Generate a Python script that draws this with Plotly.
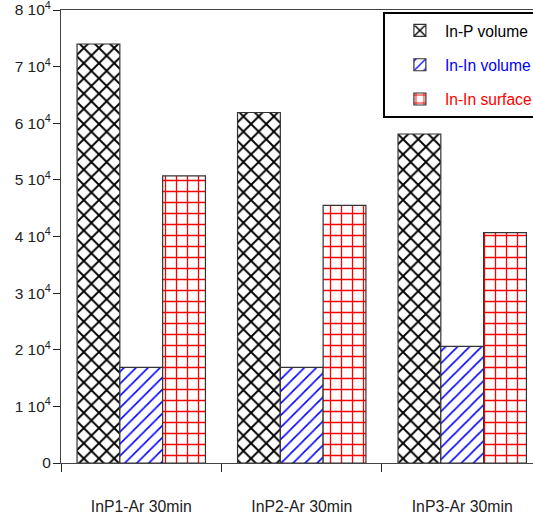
import plotly.graph_objects as go

categories = ["InP1-Ar 30min", "InP2-Ar 30min", "InP3-Ar 30min"]
inp_volume = [74000, 61900, 58100]
inin_volume = [16900, 16900, 20600]
inin_surface = [50700, 45500, 40700]
series_names = ["In-P volume", "In-In volume", "In-In surface"]
series_colors = ["#000000", "#0000ff", "#ff0000"]
series_patterns = ["x", "/", "+"]
pattern_sizes = [10.75, 8.5, 11]
pattern_solidity = [0.32, 0.18, 0.22]
y_tickvals = [0, 10000, 20000, 30000, 40000, 50000, 60000, 70000, 80000]
y_ticktext = ["0"] + [f"{i} 10<sup>4</sup>" for i in range(1, 9)]

fig = go.Figure()
for i, vals in enumerate([inp_volume, inin_volume, inin_surface]):
    fig.add_trace(go.Bar(
        x=categories, y=vals,
        name=f"<span style='color:{series_colors[i]}'>{series_names[i]}</span>",
        legendgroup=f"g{i}",
        marker=dict(
            color="white",
            line=dict(color="#333333", width=1.2),
            pattern=dict(shape=series_patterns[i], fgcolor=series_colors[i],
                         bgcolor="white", size=pattern_sizes[i],
                         solidity=pattern_solidity[i], fillmode="replace"),
        ),
        hoverinfo="skip",
    ))

fig.update_layout(
    width=533, height=516,
    margin=dict(l=61, r=0, t=10, b=53, autoexpand=False),
    paper_bgcolor="white", plot_bgcolor="white",
    font=dict(family="Liberation Sans, Arial, sans-serif", size=15.5, color="#222222"),
    barmode="group", bargap=0.2, bargroupgap=0,
    showlegend=True,
    legend=dict(
        x=0.682, y=0.996, xanchor="left", yanchor="top",
        bordercolor="black", borderwidth=2, bgcolor="white",
        font=dict(size=15.6),
        tracegroupgap=11,
        itemwidth=40,
        indentation=10,
    ),
)
fig.update_xaxes(
    range=[-0.5, 2.441],
    showline=True, linecolor="#444444", linewidth=1, mirror=True,
    ticks="outside", tickson="boundaries", ticklen=8, tickcolor="#222222",
    ticklabelstandoff=29,
    showgrid=False, zeroline=False,
    tickfont=dict(size=15.8),
)
fig.update_yaxes(
    range=[0, 80000],
    tickvals=y_tickvals, ticktext=y_ticktext,
    showline=True, linecolor="#444444", linewidth=1,
    ticks="outside", ticklen=7, tickcolor="#222222",
    showgrid=False, zeroline=False,
    ticklabeloverflow="allow",
    ticklabelstandoff=-1,
    tickfont=dict(size=15.5),
)

fig.write_html("out.html", config={"displayModeBar": False},
               post_script="document.body.style.margin='0';")
